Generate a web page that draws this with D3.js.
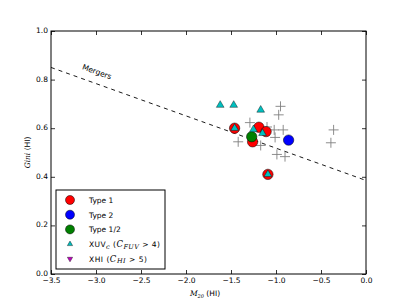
<!DOCTYPE html>
<html>
<head>
<meta charset="utf-8">
<script src="https://cdn.jsdelivr.net/npm/d3@7"></script>
<style>
  body { margin: 0; background: #fff; }
  text { font-family: "DejaVu Sans", sans-serif; }
</style>
</head>
<body>
<svg id="chart"></svg>
<script>
// comparison sample (grey crosses)
const crossX = [-0.95, -0.97, -1.29, -1.10, -1.02, -0.92, -1.01, -1.42, -1.17, -0.99, -0.90, -0.36, -0.39];
const crossY = [0.69, 0.655, 0.623, 0.605, 0.593, 0.593, 0.562, 0.544, 0.529, 0.492, 0.483, 0.593, 0.540];

const type1X = [-1.46, -1.19, -1.11, -1.26, -1.09];
const type1Y = [0.60, 0.604, 0.586, 0.544, 0.41];
const type2X = [-0.86];
const type2Y = [0.551];
const type12X = [-1.27];
const type12Y = [0.565];
const xuvX = [-1.62, -1.47, -1.17, -1.25, -1.15, -1.46, -1.09];
const xuvY = [0.695, 0.695, 0.675, 0.595, 0.579, 0.60, 0.41];
const xhiX = [];
const xhiY = [];

const mergerX = [-3.5, 0];
const mergerY = [0.85, 0.385];

const xTicks = [-3.5, -3.0, -2.5, -2.0, -1.5, -1.0, -0.5, 0.0];
const yTicks = [0.0, 0.2, 0.4, 0.6, 0.8, 1.0];

const width = 407, height = 305;
const mLeft = 51, mRight = 366, mTop = 31, mBottom = 274;

const svg = d3.select("#chart").attr("width", width).attr("height", height);

const x = d3.scaleLinear().domain([-3.5, 0]).range([mLeft, mRight]);
const y = d3.scaleLinear().domain([0, 1]).range([mBottom, mTop]);
const fmt = d3.format(".1f");

// axes, ticks pointing inward on all four sides
const styleAxis = g => {
    g.select(".domain").remove();
    g.selectAll("line").attr("stroke", "#000").attr("stroke-width", 0.8);
    g.selectAll("text").attr("font-size", "7.5px").attr("fill", "#000");
};
svg.append("g").attr("transform", `translate(0,${mBottom})`)
   .call(d3.axisBottom(x).tickValues(xTicks).tickFormat(fmt).tickSizeInner(-4).tickSizeOuter(0).tickPadding(4))
   .call(styleAxis);
svg.append("g").attr("transform", `translate(0,${mTop})`)
   .call(d3.axisTop(x).tickValues(xTicks).tickFormat("").tickSizeInner(-4).tickSizeOuter(0))
   .call(styleAxis);
svg.append("g").attr("transform", `translate(${mLeft},0)`)
   .call(d3.axisLeft(y).tickValues(yTicks).tickFormat(fmt).tickSizeInner(-4).tickSizeOuter(0).tickPadding(3))
   .call(styleAxis)
   .call(g => g.selectAll("text").attr("dy", "0.2em"));
svg.append("g").attr("transform", `translate(${mRight},0)`)
   .call(d3.axisRight(y).tickValues(yTicks).tickFormat("").tickSizeInner(-4).tickSizeOuter(0))
   .call(styleAxis);

svg.append("rect")
   .attr("x", mLeft).attr("y", mTop)
   .attr("width", mRight - mLeft).attr("height", mBottom - mTop)
   .attr("fill", "none").attr("stroke", "#000").attr("stroke-width", 1);

// merger line
svg.append("line")
   .attr("x1", x(mergerX[0])).attr("y1", y(mergerY[0]))
   .attr("x2", x(mergerX[1])).attr("y2", y(mergerY[1]))
   .attr("stroke", "#000").attr("stroke-width", 0.9)
   .attr("stroke-dasharray", "4,4");

const ang = Math.atan2(y(mergerY[1]) - y(mergerY[0]), x(mergerX[1]) - x(mergerX[0])) * 180 / Math.PI;
svg.append("text")
   .attr("transform", `translate(${x(-3.0)},${y(0.822)}) rotate(${ang})`)
   .attr("text-anchor", "middle")
   .attr("font-size", "7.5px")
   .text("Mergers");

const plot = svg.append("g");

// grey crosses
const cs = 5;
plot.selectAll("path.cross")
    .data(d3.range(crossX.length))
    .enter().append("path")
    .attr("class", "cross")
    .attr("d", i => `M${x(crossX[i]) - cs},${y(crossY[i])}h${2 * cs}M${x(crossX[i])},${y(crossY[i]) - cs}v${2 * cs}`)
    .attr("stroke", "#808080").attr("stroke-width", 0.9).attr("fill", "none");

const circles = (xs, ys, color) => {
    plot.selectAll(null)
        .data(d3.range(xs.length))
        .enter().append("circle")
        .attr("cx", i => x(xs[i])).attr("cy", i => y(ys[i]))
        .attr("r", 5.2)
        .attr("fill", color).attr("stroke", "#000").attr("stroke-width", 0.5);
};
circles(type1X, type1Y, "#ff0000");
circles(type2X, type2Y, "#0000ff");
circles(type12X, type12Y, "#008000");

const tri = d3.symbol().type(d3.symbolTriangle).size(26);
plot.selectAll(null)
    .data(d3.range(xuvX.length))
    .enter().append("path")
    .attr("d", tri)
    .attr("transform", i => `translate(${x(xuvX[i])},${y(xuvY[i])})`)
    .attr("fill", "#00bfbf").attr("stroke", "#000").attr("stroke-width", 0.4);
plot.selectAll(null)
    .data(d3.range(xhiX.length))
    .enter().append("path")
    .attr("d", tri)
    .attr("transform", i => `translate(${x(xhiX[i])},${y(xhiY[i])}) rotate(180)`)
    .attr("fill", "#bf00bf").attr("stroke", "#000").attr("stroke-width", 0.4);

// axis labels
const xl = svg.append("text")
   .attr("x", 205).attr("y", 296)
   .attr("text-anchor", "middle").attr("font-size", "7.5px");
xl.append("tspan").attr("font-family", "DejaVu Serif").attr("font-style", "italic").text("M");
xl.append("tspan").attr("font-family", "DejaVu Serif").attr("font-style", "italic").attr("font-size", "5px").attr("dy", 1.5).text("20");
xl.append("tspan").attr("dy", -1.5).text(" (HI)");

const yl = svg.append("text")
   .attr("transform", `translate(30,${(mTop + mBottom) / 2}) rotate(-90)`)
   .attr("text-anchor", "middle").attr("font-size", "7.5px");
yl.append("tspan").attr("font-family", "DejaVu Serif").attr("font-style", "italic").text("Gini");
yl.append("tspan").text(" (HI)");

// legend
const lg = svg.append("g");
lg.append("rect")
  .attr("x", 56).attr("y", 190).attr("width", 109).attr("height", 79)
  .attr("fill", "#fff").attr("stroke", "#000").attr("stroke-width", 1);

const legendRows = [
    { kind: "circle", color: "#ff0000", len: 0, parts: [["Type 1", ""]] },
    { kind: "circle", color: "#0000ff", len: 0, parts: [["Type 2", ""]] },
    { kind: "circle", color: "#008000", len: 0, parts: [["Type 1/2", ""]] },
    { kind: "up", color: "#00bfbf", len: 71, parts: [["XUV", ""], ["c", "sub"], [" (", ""], ["C", "it"], ["FUV", "sub"], [" > 4)", ""]] },
    { kind: "down", color: "#bf00bf", len: 58, parts: [["XHI (", ""], ["C", "it"], ["HI", "sub"], [" > 5)", ""]] }
];
const smallTri = d3.symbol().type(d3.symbolTriangle).size(12);
legendRows.forEach((r, i) => {
    const cy = 200 + i * 14.7;
    if (r.kind === "circle") {
        lg.append("circle").attr("cx", 70).attr("cy", cy).attr("r", 4.5)
          .attr("fill", r.color).attr("stroke", "#000").attr("stroke-width", 0.5);
    } else {
        lg.append("path").attr("d", smallTri)
          .attr("transform", `translate(70,${cy})${r.kind === "down" ? " rotate(180)" : ""}`)
          .attr("fill", r.color).attr("stroke", "#000").attr("stroke-width", 0.4);
    }
    const t = lg.append("text").attr("x", 89).attr("y", cy + 3).attr("font-size", "7.5px");
    if (r.len) t.attr("textLength", r.len).attr("lengthAdjust", "spacing");
    let shift = 0;
    r.parts.forEach(([s, k]) => {
        const ts = t.append("tspan").text(s);
        if (k === "sub") {
            ts.attr("font-family", "DejaVu Serif").attr("font-style", "italic").attr("font-size", "6.5px").attr("dy", 1.5 - shift);
            shift = 1.5;
        } else {
            if (k === "it") ts.attr("font-family", "DejaVu Serif").attr("font-style", "italic").attr("font-size", "8.5px");
            if (shift) { ts.attr("dy", -shift); shift = 0; }
        }
    });
});
</script>
</body>
</html>
